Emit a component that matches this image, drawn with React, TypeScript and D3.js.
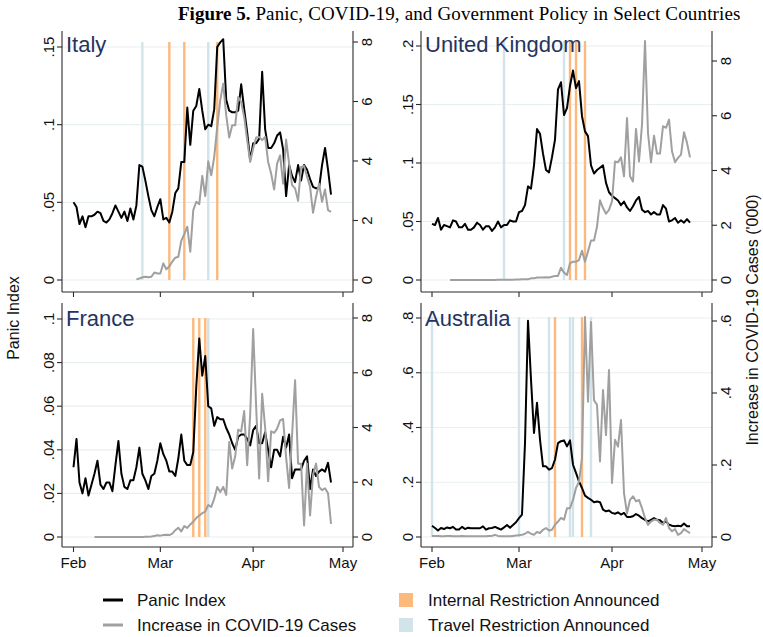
import React from "react";
import * as d3 from "d3";

// Month ticks on the shared date axis
const monthTicks = ["2020-02-01", "2020-03-01", "2020-04-01", "2020-05-01"];
const monthLabels = ["Feb", "Mar", "Apr", "May"];

// Daily panic index (from Feb 1) and daily new cases in thousands
const italyPanic = [
  0.050, 0.047, 0.036, 0.041, 0.034, 0.041, 0.041, 0.042, 0.044, 0.043,
  0.038, 0.037, 0.039, 0.043, 0.048, 0.044, 0.040, 0.044, 0.038, 0.046,
  0.039, 0.048, 0.074, 0.073, 0.064, 0.054, 0.045, 0.041, 0.047, 0.052,
  0.039, 0.040, 0.037, 0.044, 0.056, 0.059, 0.076, 0.076, 0.111, 0.087,
  0.109, 0.112, 0.123, 0.109, 0.097, 0.100, 0.099, 0.110, 0.150, 0.153,
  0.155, 0.116, 0.109, 0.108, 0.108, 0.109, 0.126, 0.110, 0.095, 0.077,
  0.088, 0.088, 0.091, 0.134, 0.097, 0.085, 0.085, 0.088, 0.093, 0.095,
  0.084, 0.054, 0.074, 0.067, 0.063, 0.074, 0.064, 0.074, 0.071, 0.065,
  0.060, 0.059, 0.059, 0.074, 0.085, 0.071, 0.055,
];
const italyCasesStart = "2020-02-22";
const italyCases = [
  0.02, 0.05, 0.09, 0.11, 0.09, 0.11, 0.25, 0.22, 0.22, 0.56,
  0.36, 0.45, 0.62, 0.75, 0.78, 1.32, 1.54, 1.79, 0.95, 2.35,
  2.63, 2.55, 3.50, 2.82, 3.99, 3.52, 4.14, 5.15, 6.04, 6.60,
  5.54, 4.79, 5.20, 5.20, 6.15, 5.98, 5.48, 4.70, 3.97, 4.42,
  4.79, 4.81, 4.70, 4.81, 3.97, 3.58, 3.04, 3.91, 4.19, 3.24,
  4.72, 3.91, 3.19, 3.08, 2.66, 3.80, 3.83, 3.47, 3.13, 2.26,
  2.80, 3.24, 2.63, 3.04, 2.35, 2.29,
];
const italyInternal = ["2020-03-04", "2020-03-09", "2020-03-20"];
const italyTravel = ["2020-02-24", "2020-03-17"];

const ukPanic = [
  0.048, 0.047, 0.053, 0.043, 0.047, 0.046, 0.045, 0.051, 0.050, 0.045,
  0.045, 0.048, 0.043, 0.043, 0.045, 0.049, 0.047, 0.043, 0.046, 0.046,
  0.042, 0.045, 0.050, 0.045, 0.047, 0.047, 0.051, 0.050, 0.050, 0.058,
  0.059, 0.064, 0.080, 0.078, 0.098, 0.129, 0.125, 0.108, 0.094, 0.092,
  0.105, 0.120, 0.163, 0.169, 0.141, 0.147, 0.166, 0.179, 0.164, 0.170,
  0.140, 0.127, 0.123, 0.098, 0.091, 0.094, 0.096, 0.098, 0.083, 0.075,
  0.072, 0.070, 0.068, 0.064, 0.067, 0.062, 0.059, 0.063, 0.068, 0.071,
  0.060, 0.058, 0.059, 0.056, 0.058, 0.056, 0.056, 0.064, 0.061, 0.050,
  0.051, 0.053, 0.049, 0.051, 0.049, 0.052, 0.049,
];
const ukCasesStart = "2020-02-07";
const ukCases = [
  0, 0, 0, 0, 0, 0, 0, 0, 0, 0,
  0, 0, 0, 0, 0, 0, 0.005, 0.005, 0.01, 0.01,
  0.01, 0.01, 0.02, 0.02, 0.03, 0.03,
  0.03, 0.06, 0.06, 0.09, 0.09, 0.09, 0.10, 0.09, 0.12, 0.15,
  0.15, 0.45, 0.27, 0.18, 0.61, 0.67, 0.67, 0.73, 1.07, 0.67,
  1.04, 1.44, 1.44, 1.95, 2.91, 2.63, 2.42, 2.56, 2.87, 4.33,
  4.30, 4.48, 3.79, 5.92, 3.79, 3.60, 5.52, 4.33, 5.68, 8.73,
  5.37, 4.30, 5.27, 4.62, 4.62, 5.62, 5.56, 5.86, 4.70, 4.30,
  4.46, 4.58, 5.40, 5.01, 4.48,
];
const ukInternal = ["2020-03-18", "2020-03-20", "2020-03-23"];
const ukTravel = ["2020-02-25", "2020-03-16"];

const francePanic = [
  0.032, 0.045, 0.025, 0.020, 0.027, 0.019, 0.024, 0.029, 0.035, 0.024,
  0.022, 0.025, 0.025, 0.021, 0.033, 0.044, 0.029, 0.023, 0.022, 0.026,
  0.026, 0.032, 0.041, 0.029, 0.026, 0.022, 0.028, 0.029, 0.035, 0.043,
  0.038, 0.035, 0.030, 0.030, 0.028, 0.036, 0.047, 0.035, 0.033, 0.033,
  0.039, 0.069, 0.091, 0.074, 0.083, 0.060, 0.059, 0.051, 0.055, 0.054,
  0.054, 0.050, 0.047, 0.043, 0.040, 0.046, 0.047, 0.047, 0.045, 0.042,
  0.049, 0.051, 0.043, 0.043, 0.048, 0.040, 0.032, 0.040, 0.040, 0.037,
  0.046, 0.041, 0.047, 0.027, 0.031, 0.031, 0.031, 0.035, 0.037, 0.022,
  0.031, 0.028, 0.030, 0.031, 0.030, 0.034, 0.025,
];
const franceCasesStart = "2020-02-08";
const franceCases = [
  0, 0, 0, 0, 0, 0, 0, 0, 0, 0,
  0, 0, 0, 0, 0, 0, 0,
  0.01, 0.01, 0.02, 0.04, 0.06, 0.05, 0.07, 0.08, 0.07, 0.12,
  0.25, 0.34, 0.20, 0.40, 0.33, 0.46, 0.56, 0.69, 0.79, 0.87,
  0.93, 1.17, 1.10, 1.40, 1.83, 1.64, 1.83, 1.54, 3.47, 2.50,
  2.95, 3.92, 3.86, 4.60, 2.62, 4.46, 7.60, 4.75, 2.14, 5.23,
  4.00, 2.04, 3.86, 3.80, 3.96, 4.26, 4.31, 2.92, 1.79, 3.73,
  5.73, 2.68, 2.68, 0.42, 2.68, 0.79, 2.28, 2.68, 1.83, 1.71,
  1.78, 1.60, 0.48,
];
const franceInternal = ["2020-03-12", "2020-03-14", "2020-03-16"];
const franceTravel = ["2020-03-17"];

const australiaPanic = [
  0.041, 0.033, 0.024, 0.033, 0.029, 0.035, 0.032, 0.037, 0.027, 0.027,
  0.037, 0.029, 0.034, 0.032, 0.032, 0.032, 0.032, 0.039, 0.027, 0.032,
  0.033, 0.037, 0.032, 0.027, 0.035, 0.044, 0.034, 0.044, 0.054, 0.069,
  0.082, 0.343, 0.790, 0.575, 0.380, 0.490, 0.356, 0.258, 0.258, 0.246,
  0.252, 0.283, 0.343, 0.350, 0.353, 0.331, 0.353, 0.264, 0.234, 0.203,
  0.179, 0.151, 0.143, 0.136, 0.127, 0.130, 0.127, 0.100, 0.094, 0.097,
  0.088, 0.085, 0.090, 0.082, 0.088, 0.073, 0.073, 0.076, 0.084, 0.078,
  0.069, 0.063, 0.057, 0.063, 0.069, 0.063, 0.061, 0.051, 0.057, 0.045,
  0.041, 0.039, 0.041, 0.039, 0.049, 0.039, 0.039,
];
const australiaCasesStart = "2020-02-01";
const australiaCases = [
  0.003, 0.003, 0.003, 0.002, 0.002, 0.003, 0.003, 0.002, 0.002, 0.002,
  0.003, 0.002, 0.002, 0.002, 0.002, 0.002, 0.002, 0.002, 0.002, 0.003,
  0.003, 0.006, 0.003, 0.002, 0.002, 0.002, 0.002, 0.003, 0.004,
  0.005, 0.006, 0.009, 0.014, 0.009, 0.006, 0.014, 0.011, 0.020, 0.025,
  0.018, 0.020, 0.034, 0.043, 0.053, 0.048, 0.080, 0.080, 0.103, 0.136,
  0.154, 0.219, 0.611, 0.376, 0.597, 0.380, 0.367, 0.210, 0.408, 0.283,
  0.464, 0.150, 0.270, 0.251, 0.325, 0.122, 0.066, 0.103, 0.113, 0.099,
  0.103, 0.080, 0.053, 0.034, 0.043, 0.048, 0.048, 0.039, 0.034, 0.053,
  0.025, 0.016, 0.022, 0.006, 0.011, 0.022, 0.016, 0.011,
];
const australiaInternal = ["2020-03-13", "2020-03-22"];
const australiaTravel = ["2020-02-01", "2020-03-01", "2020-03-11", "2020-03-18", "2020-03-19", "2020-03-25"];

// Axis ticks per panel
const italyLeftTicks = [0, 0.05, 0.1, 0.15];
const ukLeftTicks = [0, 0.05, 0.1, 0.15, 0.2];
const franceLeftTicks = [0, 0.02, 0.04, 0.06, 0.08, 0.1];
const australiaLeftTicks = [0, 0.2, 0.4, 0.6, 0.8];
const casesTicksK = [0, 2, 4, 6, 8];
const australiaRightTicks = [0, 0.2, 0.4, 0.6];

const panicStart = "2020-02-01";
const parse = d3.utcParse("%Y-%m-%d");

const COL_BLACK = "#000000";
const COL_GRAY = "#a0a0a0";
const COL_INTERNAL = "#fdb97c";
const COL_TRAVEL = "#d3e3ea";
const COL_GRID = "#e7eff1";
const COL_AXIS = "#2a2a2a";
const COL_TITLE = "#25345f";
const SANS = "'Liberation Sans', Arial, sans-serif";
const SERIF = "'Liberation Serif', 'Times New Roman', serif";

const fmt = (v) => (v === 0 ? "0" : String(v).replace(/^0\./, "."));

// Layout of the two columns and two rows
const cols = [
  { axL: 62, axR: 353, feb: 73.5, may: 343 },
  { axL: 421, axR: 712, feb: 432, may: 702 },
];
const rows = [
  { top: 31, axisY: 292, zeroY: 280, labelY: 52 },
  { top: 303, axisY: 547, zeroY: 537, labelY: 326 },
];

const panels = [
  {
    name: "Italy", col: 0, row: 0, panic: italyPanic, cases: italyCases, casesStart: italyCasesStart,
    internal: italyInternal, travel: italyTravel, leftTicks: italyLeftTicks, rightTicks: casesTicksK,
    leftTopY: 47, rightTopY: 42, showDates: false,
  },
  {
    name: "United Kingdom", col: 1, row: 0, panic: ukPanic, cases: ukCases, casesStart: ukCasesStart,
    internal: ukInternal, travel: ukTravel, leftTicks: ukLeftTicks, rightTicks: casesTicksK,
    leftTopY: 46, rightTopY: 61, showDates: false,
  },
  {
    name: "France", col: 0, row: 1, panic: francePanic, cases: franceCases, casesStart: franceCasesStart,
    internal: franceInternal, travel: franceTravel, leftTicks: franceLeftTicks, rightTicks: casesTicksK,
    leftTopY: 319, rightTopY: 318, showDates: true,
  },
  {
    name: "Australia", col: 1, row: 1, panic: australiaPanic, cases: australiaCases, casesStart: australiaCasesStart,
    internal: australiaInternal, travel: australiaTravel, leftTicks: australiaLeftTicks, rightTicks: australiaRightTicks,
    leftTopY: 318, rightTopY: 321, showDates: true,
  },
];

function Panel({ p }) {
  const c = cols[p.col];
  const r = rows[p.row];
  const x = d3.scaleUtc().domain([parse("2020-02-01"), parse("2020-05-01")]).range([c.feb, c.may]);
  const yL = d3.scaleLinear().domain([0, p.leftTicks[p.leftTicks.length - 1]]).range([r.zeroY, p.leftTopY]);
  const yR = d3.scaleLinear().domain([0, p.rightTicks[p.rightTicks.length - 1]]).range([r.zeroY, p.rightTopY]);

  const pStart = parse(panicStart);
  const cStart = parse(p.casesStart);
  const panicPath = d3.line().x((_, i) => x(d3.utcDay.offset(pStart, i))).y((v) => yL(v))(p.panic);
  const casesPath = d3.line().x((_, i) => x(d3.utcDay.offset(cStart, i))).y((v) => yR(v))(p.cases);

  const eventTop = yR(Math.max(p.rightTicks[p.rightTicks.length - 1], d3.max(p.cases)));

  return (
    <g>
      {p.leftTicks.map((t) => (
        <line key={"g" + t} x1={c.axL} x2={c.axR} y1={yL(t)} y2={yL(t)} stroke={COL_GRID} strokeWidth={1.2} />
      ))}
      {p.travel.map((d) => (
        <line key={"t" + d} x1={x(parse(d))} x2={x(parse(d))} y1={yR(0)} y2={eventTop} stroke={COL_TRAVEL} strokeWidth={2.4} />
      ))}
      {p.internal.map((d) => (
        <line key={"i" + d} x1={x(parse(d))} x2={x(parse(d))} y1={yR(0)} y2={eventTop} stroke={COL_INTERNAL} strokeWidth={2.4} />
      ))}
      <path d={panicPath} fill="none" stroke={COL_BLACK} strokeWidth={2} strokeLinejoin="round" />
      <path d={casesPath} fill="none" stroke={COL_GRAY} strokeWidth={2} strokeLinejoin="round" />

      {/* frame: left, right and bottom axes */}
      <line x1={c.axL} x2={c.axL} y1={r.top} y2={r.axisY} stroke={COL_AXIS} strokeWidth={1.1} />
      <line x1={c.axR} x2={c.axR} y1={r.top} y2={r.axisY} stroke={COL_AXIS} strokeWidth={1.1} />
      <line x1={c.axL} x2={c.axR} y1={r.axisY} y2={r.axisY} stroke={COL_AXIS} strokeWidth={1.1} />

      {p.leftTicks.map((t) => (
        <g key={"lt" + t}>
          <line x1={c.axL - 5} x2={c.axL} y1={yL(t)} y2={yL(t)} stroke={COL_AXIS} strokeWidth={1.1} />
          <text transform={`translate(${c.axL - 8},${yL(t)}) rotate(-90)`} textAnchor="middle"
            fontFamily={SANS} fontSize={15} fill="#111">{fmt(t)}</text>
        </g>
      ))}
      {p.rightTicks.map((t) => (
        <g key={"rt" + t}>
          <line x1={c.axR} x2={c.axR + 5} y1={yR(t)} y2={yR(t)} stroke={COL_AXIS} strokeWidth={1.1} />
          <text transform={`translate(${c.axR + 19},${yR(t)}) rotate(-90)`} textAnchor="middle"
            fontFamily={SANS} fontSize={15} fill="#111">{fmt(t)}</text>
        </g>
      ))}
      {monthTicks.map((m, i) => (
        <g key={"m" + m}>
          <line x1={x(parse(m))} x2={x(parse(m))} y1={r.axisY} y2={r.axisY + 5} stroke={COL_AXIS} strokeWidth={1.1} />
          {p.showDates && (
            <text x={x(parse(m))} y={r.axisY + 21} textAnchor="middle" fontFamily={SANS} fontSize={15} fill="#111">
              {monthLabels[i]}
            </text>
          )}
        </g>
      ))}
      <text x={c.axL + 4} y={r.labelY} fontFamily={SANS} fontSize={22} fill={COL_TITLE}>{p.name}</text>
    </g>
  );
}

export default function App() {
  return (
    <svg width={763} height={637} style={{ display: "block", position: "absolute", left: 0, top: 0, background: "#fff" }}>
      <rect x={0} y={0} width={763} height={637} fill="#fff" />
      <text x={178} y={20} fontFamily={SERIF} fontSize={19} fill="#000">
        <tspan fontWeight="bold">Figure 5.</tspan>
        <tspan letterSpacing={0.15}> Panic, COVID-19, and Government Policy in Select Countries</tspan>
      </text>
      {panels.map((p) => (
        <Panel key={p.name} p={p} />
      ))}
      <text transform="translate(19,318) rotate(-90)" textAnchor="middle" fontFamily={SANS} fontSize={16} fill="#111">
        Panic Index
      </text>
      <text transform="translate(758,320) rotate(-90)" textAnchor="middle" fontFamily={SANS} fontSize={16} fill="#111">
        Increase in COVID-19 Cases ('000)
      </text>

      {/* legend */}
      <line x1={103} x2={123} y1={600} y2={600} stroke={COL_BLACK} strokeWidth={3} />
      <text x={137} y={606} fontFamily={SANS} fontSize={17} fill="#111">Panic Index</text>
      <line x1={103} x2={123} y1={625} y2={625} stroke={COL_GRAY} strokeWidth={3} />
      <text x={137} y={631} fontFamily={SANS} fontSize={17} fill="#111">Increase in COVID-19 Cases</text>
      <rect x={399} y={593} width={14} height={14} fill={COL_INTERNAL} />
      <text x={428} y={606} fontFamily={SANS} fontSize={17} fill="#111">Internal Restriction Announced</text>
      <rect x={399} y={618} width={14} height={14} fill={COL_TRAVEL} />
      <text x={428} y={631} fontFamily={SANS} fontSize={17} fill="#111">Travel Restriction Announced</text>
    </svg>
  );
}
